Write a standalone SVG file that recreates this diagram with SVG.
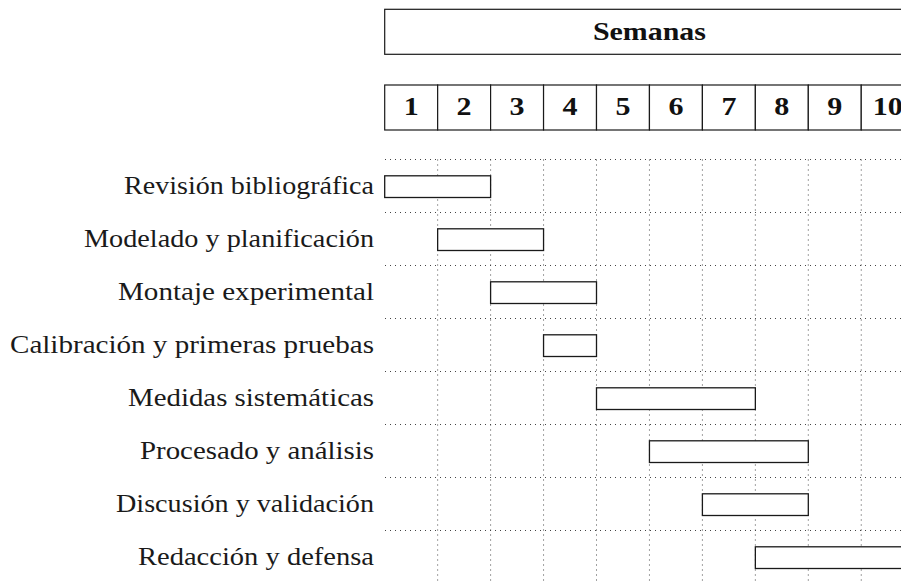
<svg xmlns="http://www.w3.org/2000/svg" width="901" height="581" viewBox="0 0 901 581">
<style>
.box{fill:#fff;stroke:#1a1a1a;stroke-width:1.2}
.bar{fill:#fff;stroke:#1a1a1a;stroke-width:1.3}
.grid line{stroke:#444;stroke-width:1;stroke-dasharray:1 4}
.hd{font-family:"Liberation Serif","Times New Roman",serif;font-weight:bold;font-size:26px;fill:#111;text-anchor:middle}
.lbl{font-family:"Liberation Serif","Times New Roman",serif;font-size:26px;fill:#1a1a1a}
</style>
<rect width="901" height="581" fill="#fff"/>
<g id="grid" class="grid">
<line x1="385" y1="159.5" x2="901" y2="159.5"/>
<line x1="385" y1="212.5" x2="901" y2="212.5"/>
<line x1="385" y1="265.5" x2="901" y2="265.5"/>
<line x1="385" y1="318.5" x2="901" y2="318.5"/>
<line x1="385" y1="371.5" x2="901" y2="371.5"/>
<line x1="385" y1="424.5" x2="901" y2="424.5"/>
<line x1="385" y1="477.5" x2="901" y2="477.5"/>
<line x1="385" y1="530.5" x2="901" y2="530.5"/>
<line x1="437.65" y1="159.5" x2="437.65" y2="581"/>
<line x1="490.6" y1="159.5" x2="490.6" y2="581"/>
<line x1="543.55" y1="159.5" x2="543.55" y2="581"/>
<line x1="596.5" y1="159.5" x2="596.5" y2="581"/>
<line x1="649.45" y1="159.5" x2="649.45" y2="581"/>
<line x1="702.4" y1="159.5" x2="702.4" y2="581"/>
<line x1="755.35" y1="159.5" x2="755.35" y2="581"/>
<line x1="808.3" y1="159.5" x2="808.3" y2="581"/>
<line x1="861.25" y1="159.5" x2="861.25" y2="581"/>
</g>
<g id="header-semanas">
<rect class="box" x="384.7" y="9.3" width="529.5" height="45"/>
<text class="hd" x="649.45" y="39.5" textLength="113" lengthAdjust="spacingAndGlyphs">Semanas</text>
</g>
<g id="header-weeks">
<rect class="box" x="384.7" y="85" width="52.95" height="45"/>
<rect class="box" x="437.65" y="85" width="52.95" height="45"/>
<rect class="box" x="490.6" y="85" width="52.95" height="45"/>
<rect class="box" x="543.55" y="85" width="52.95" height="45"/>
<rect class="box" x="596.5" y="85" width="52.95" height="45"/>
<rect class="box" x="649.45" y="85" width="52.95" height="45"/>
<rect class="box" x="702.4" y="85" width="52.95" height="45"/>
<rect class="box" x="755.35" y="85" width="52.95" height="45"/>
<rect class="box" x="808.3" y="85" width="52.95" height="45"/>
<rect class="box" x="861.25" y="85" width="52.95" height="45"/>
<text class="hd" x="411.2" y="115" textLength="15" lengthAdjust="spacingAndGlyphs">1</text>
<text class="hd" x="464.1" y="115" textLength="15" lengthAdjust="spacingAndGlyphs">2</text>
<text class="hd" x="517.1" y="115" textLength="15" lengthAdjust="spacingAndGlyphs">3</text>
<text class="hd" x="570" y="115" textLength="15" lengthAdjust="spacingAndGlyphs">4</text>
<text class="hd" x="623" y="115" textLength="15" lengthAdjust="spacingAndGlyphs">5</text>
<text class="hd" x="675.9" y="115" textLength="15" lengthAdjust="spacingAndGlyphs">6</text>
<text class="hd" x="728.9" y="115" textLength="15" lengthAdjust="spacingAndGlyphs">7</text>
<text class="hd" x="781.8" y="115" textLength="15" lengthAdjust="spacingAndGlyphs">8</text>
<text class="hd" x="834.8" y="115" textLength="15" lengthAdjust="spacingAndGlyphs">9</text>
<text class="hd" x="887.7" y="115" textLength="30" lengthAdjust="spacingAndGlyphs">10</text>
</g>
<g id="task1">
<text class="lbl" x="124" y="193.5" textLength="250" lengthAdjust="spacingAndGlyphs">Revisión bibliográfica</text>
<rect class="bar" x="384.7" y="175.8" width="105.9" height="21.7"/>
</g>
<g id="task2">
<text class="lbl" x="84" y="246.5" textLength="290" lengthAdjust="spacingAndGlyphs">Modelado y planificación</text>
<rect class="bar" x="437.65" y="228.8" width="105.9" height="21.7"/>
</g>
<g id="task3">
<text class="lbl" x="118" y="299.5" textLength="256" lengthAdjust="spacingAndGlyphs">Montaje experimental</text>
<rect class="bar" x="490.6" y="281.8" width="105.9" height="21.7"/>
</g>
<g id="task4">
<text class="lbl" x="10" y="352.5" textLength="364" lengthAdjust="spacingAndGlyphs">Calibración y primeras pruebas</text>
<rect class="bar" x="543.55" y="334.8" width="52.95" height="21.7"/>
</g>
<g id="task5">
<text class="lbl" x="128" y="405.5" textLength="246" lengthAdjust="spacingAndGlyphs">Medidas sistemáticas</text>
<rect class="bar" x="596.5" y="387.8" width="158.85" height="21.7"/>
</g>
<g id="task6">
<text class="lbl" x="140" y="458.5" textLength="234" lengthAdjust="spacingAndGlyphs">Procesado y análisis</text>
<rect class="bar" x="649.45" y="440.8" width="158.85" height="21.7"/>
</g>
<g id="task7">
<text class="lbl" x="116" y="511.5" textLength="258" lengthAdjust="spacingAndGlyphs">Discusión y validación</text>
<rect class="bar" x="702.4" y="493.8" width="105.9" height="21.7"/>
</g>
<g id="task8">
<text class="lbl" x="138" y="564.5" textLength="236" lengthAdjust="spacingAndGlyphs">Redacción y defensa</text>
<rect class="bar" x="755.35" y="546.8" width="158.85" height="21.7"/>
</g>
</svg>
